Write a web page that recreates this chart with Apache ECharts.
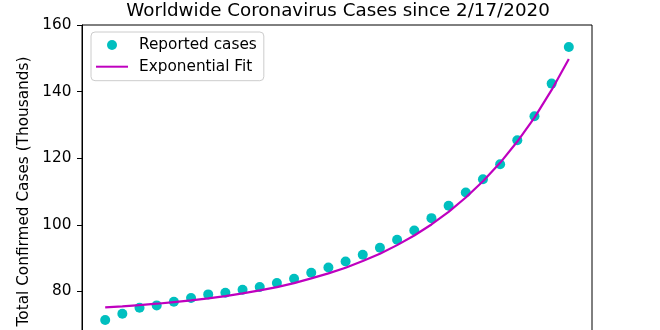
<!DOCTYPE html>
<html>
<head>
<meta charset="utf-8">
<script src="https://cdn.jsdelivr.net/npm/echarts@6/dist/echarts.min.js"></script>
<style>
  html, body { margin: 0; padding: 0; background: #ffffff; }
  #chart { width: 660px; height: 330px; }
</style>
</head>
<body>
<div id="chart"></div>
<script>
// Days since 2/17/2020
const dayIndex = [0, 1, 2, 3, 4, 5, 6, 7, 8, 9, 10, 11, 12, 13, 14, 15, 16, 17, 18, 19, 20, 21, 22, 23, 24, 25, 26, 27];

// Reported worldwide cases (thousands)
const reportedCases = [71.4, 73.3, 75.1, 75.8, 76.9, 78.0, 79.1, 79.6, 80.5, 81.3, 82.5, 83.8, 85.6, 87.2,
  89.0, 91.0, 93.1, 95.5, 98.3, 102.0, 105.7, 109.7, 113.7, 118.2, 125.4, 132.6, 142.4, 153.4];

// Exponential fit curve (thousands)
const fitCases = [75.2, 75.5, 75.9, 76.3, 76.8, 77.3, 77.9, 78.6, 79.4, 80.3, 81.3, 82.5, 83.9, 85.4,
  87.1, 89.1, 91.3, 93.9, 96.8, 100.1, 103.9, 108.2, 113.1, 118.6, 125.0, 132.2, 140.5, 149.8];

const yTicks = [60, 80, 100, 120, 140, 160];

const seriesNames = ['Reported cases', 'Exponential Fit'];
const titleText = 'Worldwide Coronavirus Cases since 2/17/2020';
const yAxisTitle = 'Total Confirmed Cases (Thousands)';

const font = 'DejaVu Sans';
const labelSize = 15.3;
const chart = echarts.init(document.getElementById('chart'), null, { renderer: 'canvas' });

chart.setOption({
  animation: false,
  backgroundColor: '#ffffff',
  title: {
    text: titleText,
    left: 338,
    textAlign: 'center',
    top: 2,
    padding: 0,
    textStyle: { fontFamily: font, fontSize: 18.3, fontWeight: 'normal', color: '#000000' }
  },
  legend: {
    orient: 'vertical',
    left: 91,
    top: 32,
    padding: [4, 7, 5, 5],
    itemWidth: 32,
    itemHeight: 10,
    itemGap: 3.7,
    symbolKeepAspect: true,
    backgroundColor: 'rgba(255,255,255,0.85)',
    borderColor: '#cccccc',
    borderWidth: 1,
    borderRadius: 4,
    data: [
      { name: seriesNames[0], icon: 'circle' },
      // thin horizontal bar standing in for the fit line
      { name: seriesNames[1], icon: 'path://M0,0L32,0L32,2L0,2Z' }
    ],
    textStyle: { fontFamily: font, fontSize: labelSize, color: '#000000', lineHeight: 18, padding: [0, 0, 0, 6] }
  },
  grid: {
    left: 82,
    right: 68,
    top: 25,
    height: 333,
    show: true,
    borderColor: '#000000',
    borderWidth: 1,
    containLabel: false,
    outerBoundsMode: 'none'
  },
  xAxis: {
    type: 'value',
    min: -1.35,
    max: 28.35,
    axisLine: { show: false },
    axisTick: { show: false },
    axisLabel: { show: false },
    splitLine: { show: false }
  },
  yAxis: {
    type: 'value',
    min: yTicks[0],
    max: yTicks[yTicks.length - 1],
    interval: 20,
    name: yAxisTitle,
    nameLocation: 'middle',
    nameGap: 43,
    nameTextStyle: { fontFamily: font, fontSize: labelSize, color: '#000000' },
    axisLine: { show: true, onZero: false, lineStyle: { color: '#000000', width: 1 } },
    axisTick: { show: true, inside: false, length: 5, lineStyle: { color: '#000000', width: 1 } },
    axisLabel: { margin: 10.5, fontFamily: font, fontSize: labelSize, color: '#000000' },
    splitLine: { show: false }
  },
  series: [
    {
      name: seriesNames[0],
      type: 'scatter',
      symbol: 'circle',
      symbolSize: 10,
      itemStyle: { color: '#00bfbf', opacity: 1 },
      z: 2,
      data: dayIndex.map((d, i) => [d, reportedCases[i]])
    },
    {
      name: seriesNames[1],
      type: 'line',
      symbol: 'none',
      smooth: false,
      lineStyle: { color: '#bf00bf', width: 2.2 },
      itemStyle: { color: '#bf00bf' },
      z: 3,
      data: dayIndex.map((d, i) => [d, fitCases[i]])
    }
  ]
});
</script>
</body>
</html>
